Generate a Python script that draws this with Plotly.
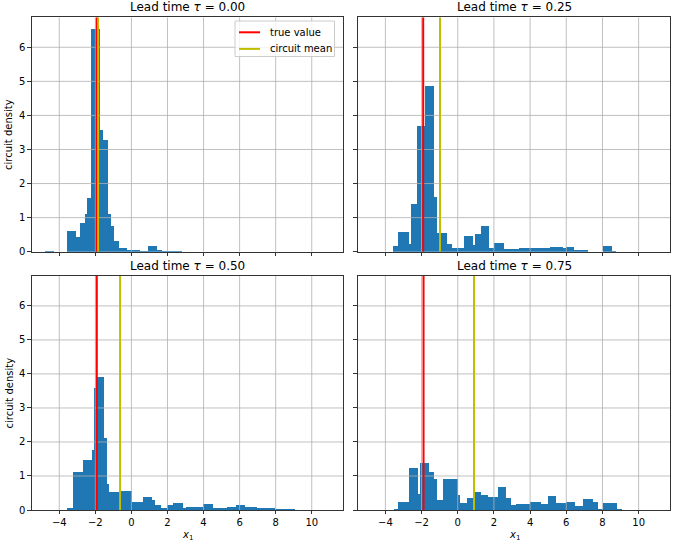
import plotly.graph_objects as go

# ---------------- data ----------------
tau_labels = ["0.00", "0.25", "0.50", "0.75"]
true_value = [-1.92, -1.91, -1.92, -1.89]
circuit_mean = [-1.85, -0.98, -0.63, 0.90]

edges_t000 = [-4.79, -4.29, -3.59, -3.07, -2.85, -2.57, -2.47, -2.25, -1.76, -1.58,
              -1.31, -1.14, -0.96, -0.71, -0.26, 0.48, 0.94, 1.40, 1.68, 2.81]
dens_t000 = [0.01, 0.0, 0.62, 0.42, 0.83, 1.1, 1.57, 6.55, 3.58, 3.28,
             1.1, 0.76, 0.32, 0.1, 0.06, 0.01, 0.16, 0.05, 0.02]

edges_t025 = [-3.59, -3.31, -2.69, -2.56, -2.24, -1.81, -1.31, -1.15, -0.59, -0.31,
              0.37, 0.87, 0.98, 1.26, 1.72, 2.0, 2.56, 3.4, 5.09, 5.8,
              5.98, 6.44, 7.18, 8.02, 8.54, 8.76]
dens_t025 = [0.18, 0.57, 0.22, 1.4, 3.68, 4.85, 1.6, 0.54, 0.23, 0.1,
             0.46, 0.2, 0.52, 0.75, 0.1, 0.26, 0.08, 0.1, 0.15, 0.1,
             0.13, 0.05, 0.0, 0.18, 0.01]

edges_t050 = [-3.6, -3.23, -2.70, -2.20, -2.09, -1.93, -1.53, -1.35, -1.27, -0.70,
              -0.28, 0.04, 0.65, 1.15, 1.30, 1.62, 2.0, 2.33, 2.85, 3.05,
              3.55, 3.95, 4.5, 5.3, 5.82, 6.32, 6.95, 7.95, 8.62, 9.08]
dens_t050 = [0.05, 1.12, 1.46, 1.76, 3.6, 3.92, 2.13, 0.76, 0.54, 0.57,
             0.55, 0.24, 0.39, 0.3, 0.14, 0.06, 0.15, 0.2, 0.06, 0.09,
             0.08, 0.17, 0.07, 0.1, 0.14, 0.1, 0.05, 0.03, 0.04]

edges_t075 = [-3.51, -3.29, -2.68, -2.18, -2.07, -1.61, -1.29, -1.15, -0.83, 0.0,
              0.15, 0.52, 0.83, 1.29, 1.66, 1.94, 2.22, 2.68, 2.96, 3.23,
              4.01, 4.58, 4.99, 5.45, 6.0, 6.47, 6.93, 7.49, 7.76, 8.04,
              8.78, 9.09]
dens_t075 = [0.02, 0.25, 1.23, 0.47, 1.38, 1.11, 0.92, 0.29, 0.92, 0.44,
             0.22, 0.36, 0.52, 0.44, 0.39, 0.37, 0.68, 0.34, 0.15, 0.17,
             0.24, 0.18, 0.41, 0.22, 0.25, 0.13, 0.32, 0.25, 0.02, 0.2,
             0.02]

legend_labels = ["true value", "circuit mean"]
x_ticks = [-4, -2, 0, 2, 4, 6, 8, 10]
y_ticks = [0, 1, 2, 3, 4, 5, 6]
x_range = [-5.53, 11.75]
y_range = [0, 6.88]

# ---------------- figure ----------------
W, H = 674, 545
FONT = "DejaVu Sans"
BLUE = "#1f77b4"
RED = "#ff0000"
YEL = "#bfbf00"
GRID = "#b0b0b0"


def px_x(p):
    return p / W


def px_y(p):
    return (H - p) / H


# axes boxes in pixels: (left, right, top, bottom)
boxes = [(31.7, 343.3, 17.3, 251.7), (357.7, 670.3, 17.3, 251.7),
         (31.7, 343.3, 276.0, 510.0), (357.7, 670.3, 276.0, 510.0)]

edges_all = [edges_t000, edges_t025, edges_t050, edges_t075]
dens_all = [dens_t000, dens_t025, dens_t050, dens_t075]

fig = go.Figure()
layout = dict(width=W, height=H, margin=dict(l=0, r=0, t=0, b=0),
              plot_bgcolor="white", paper_bgcolor="white",
              font=dict(family=FONT, size=10, color="black"),
              showlegend=False, bargap=0)
annotations = []
shapes = []

for i in range(4):
    n = "" if i == 0 else str(i + 1)
    xa, ya = "x" + n, "y" + n
    l, r, t, b = boxes[i]
    row, col = divmod(i, 2)
    edges = edges_all[i]
    dens = dens_all[i]
    centers = [(edges[k] + edges[k + 1]) / 2 for k in range(len(dens))]
    widths = [edges[k + 1] - edges[k] for k in range(len(dens))]
    fig.add_trace(go.Bar(x=centers, y=dens, width=widths, marker=dict(color=BLUE, line=dict(width=0)),
                         xaxis=xa, yaxis=ya, hoverinfo="skip"))
    # grid lines drawn above the bars (matplotlib default ordering)
    gx, gy = [], []
    for v in x_ticks:
        gx += [v, v, None]
        gy += [y_range[0], y_range[1], None]
    for v in y_ticks[1:]:
        gx += [x_range[0], x_range[1], None]
        gy += [v, v, None]
    fig.add_trace(go.Scatter(x=gx, y=gy, mode="lines", line=dict(color=GRID, width=0.8),
                             xaxis=xa, yaxis=ya, hoverinfo="skip"))
    fig.add_trace(go.Scatter(x=[true_value[i], true_value[i]], y=y_range, mode="lines",
                             line=dict(color=RED, width=2), name=legend_labels[0],
                             xaxis=xa, yaxis=ya, hoverinfo="skip"))
    fig.add_trace(go.Scatter(x=[circuit_mean[i], circuit_mean[i]], y=y_range, mode="lines",
                             line=dict(color=YEL, width=2), name=legend_labels[1],
                             xaxis=xa, yaxis=ya, hoverinfo="skip"))

    layout["xaxis" + n] = dict(domain=[px_x(l), px_x(r)], anchor=ya, range=x_range,
                               tickmode="array", tickvals=x_ticks,
                               ticktext=[str(v).replace("-", "\u2212") for v in x_ticks],
                               showticklabels=(row == 1), ticks="outside", ticklen=3.5,
                               tickwidth=0.8, tickcolor="black", showline=True, linecolor="black",
                               linewidth=0.8, mirror=True, showgrid=False, zeroline=False,
                               tickfont=dict(size=10), automargin=False, fixedrange=True)
    layout["yaxis" + n] = dict(domain=[px_y(b), px_y(t)], anchor=xa, range=y_range,
                               tickmode="array", tickvals=y_ticks,
                               showticklabels=(col == 0), ticks="outside", ticklen=3.5,
                               tickwidth=0.8, tickcolor="black", showline=True, linecolor="black",
                               linewidth=0.8, mirror=True, showgrid=False, zeroline=False,
                               tickfont=dict(size=10), automargin=False, fixedrange=True)
    # subplot title
    annotations.append(dict(text="Lead time <i>\u03c4</i> = " + tau_labels[i],
                            x=px_x((l + r) / 2), y=px_y(t - 10.3), xref="paper", yref="paper",
                            xanchor="center", yanchor="middle", showarrow=False,
                            font=dict(size=12, family=FONT, color="black")))
    if col == 0:
        annotations.append(dict(text="circuit density", x=px_x(8.5), y=px_y((t + b) / 2),
                                xref="paper", yref="paper", xanchor="center", yanchor="middle",
                                textangle=-90, showarrow=False,
                                font=dict(size=10, family=FONT, color="black")))
    if row == 1:
        annotations.append(dict(text="<i>x</i><sub>1</sub>", x=px_x((l + r) / 2), y=px_y(535.5),
                                xref="paper", yref="paper", xanchor="center", yanchor="middle",
                                showarrow=False, font=dict(size=10, family=FONT, color="black")))

# legend box (matplotlib style) in the first panel
shapes.append(dict(type="rect", xref="paper", yref="paper",
                   x0=px_x(235), x1=px_x(334.5), y0=px_y(56.5), y1=px_y(21),
                   fillcolor="rgba(255,255,255,0.8)", line=dict(color="#cccccc", width=1),
                   layer="above"))
for k, (lab, colr) in enumerate(zip(legend_labels, [RED, YEL])):
    yc = 32.3 + 16.6 * k
    shapes.append(dict(type="line", xref="paper", yref="paper",
                       x0=px_x(239), x1=px_x(260), y0=px_y(yc), y1=px_y(yc),
                       line=dict(color=colr, width=2), layer="above"))
    annotations.append(dict(text=lab, x=px_x(267.5), y=px_y(yc), xref="paper", yref="paper",
                            xanchor="left", yanchor="middle", showarrow=False,
                            font=dict(size=10, family=FONT, color="black")))

layout["annotations"] = annotations
layout["shapes"] = shapes
fig.update_layout(**layout)
# remove the default 8px page margin so the 674x545 figure fills the window exactly
fig.write_html("out.html", config={"displayModeBar": False, "staticPlot": True},
               post_script="document.body.style.margin='0px';document.body.style.overflow='hidden';")
